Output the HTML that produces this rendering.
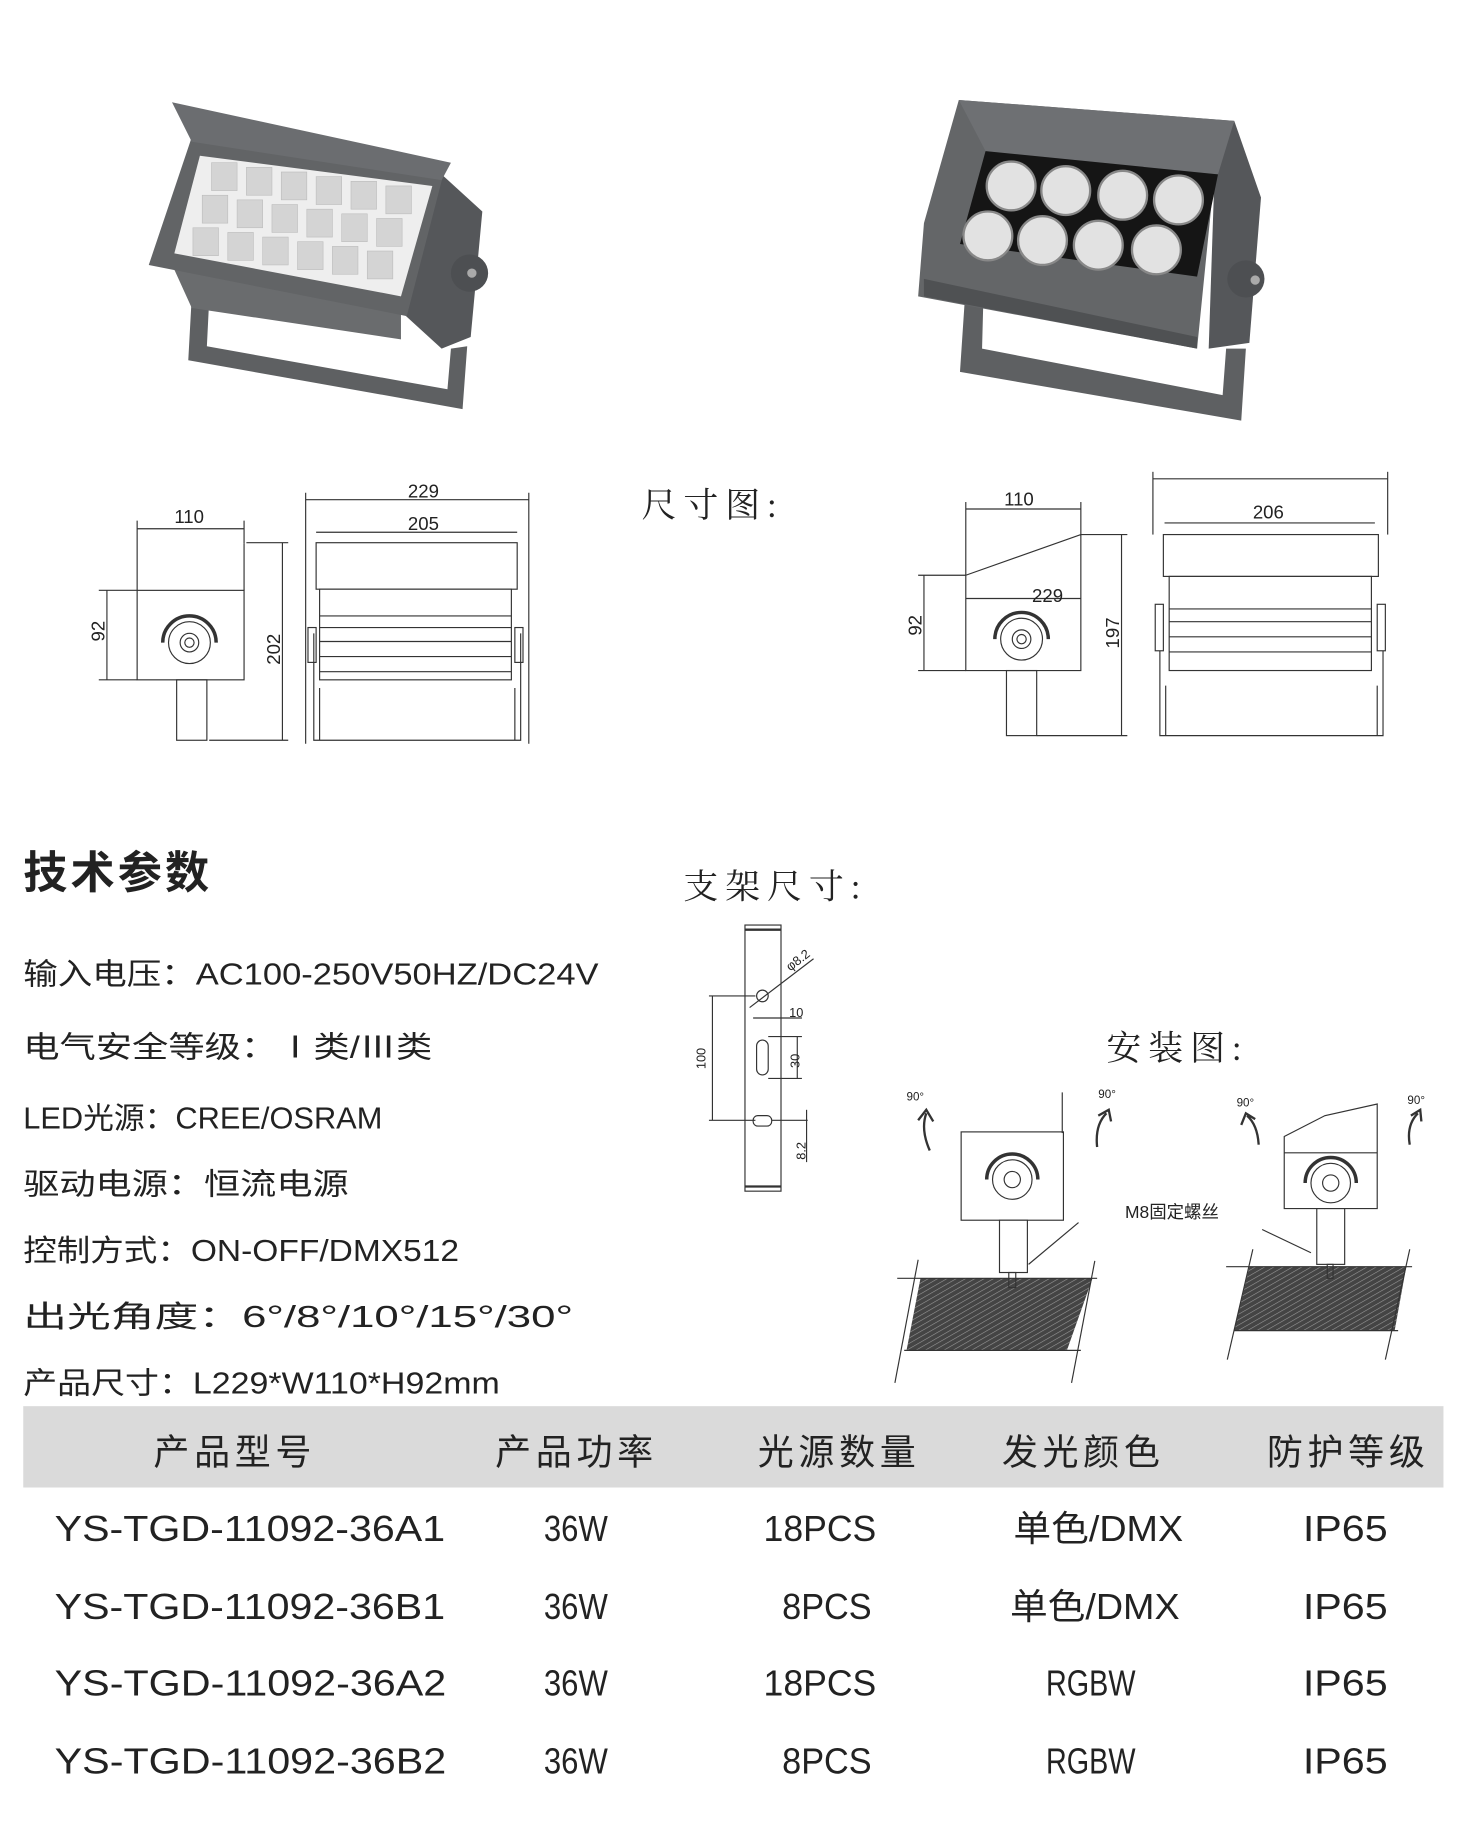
<!DOCTYPE html>
<html><head><meta charset="utf-8"><style>
html,body{margin:0;padding:0;background:#fff;width:1476px;height:1828px;overflow:hidden}
svg{display:block}
text{font-family:"Liberation Sans","Noto Sans CJK SC",sans-serif;fill:#222}
.serif{font-family:"Liberation Serif","Noto Serif CJK SC",serif}
.ln{stroke:#333;stroke-width:1;fill:none}
</style></head><body>
<svg width="1476" height="1828" viewBox="0 0 1270 1573" preserveAspectRatio="none" xmlns="http://www.w3.org/2000/svg">
<defs>
<pattern id="h" width="4" height="4" patternUnits="userSpaceOnUse" patternTransform="rotate(60)">
<rect width="4" height="4" fill="#444"/><line x1="0" y1="0" x2="0" y2="4" stroke="#999" stroke-width="1"/></pattern>
</defs>

<!-- Left photo -->
<g>
<polygon points="165,255 162,310 398,352 402,298 388,300 385,335 178,298 180,258" fill="#5e6062"/>
<polygon points="380,150 415,182 405,290 380,300 345,268" fill="#55575a"/>
<polygon points="165,265 345,292 345,268 150,232" fill="#6a6c6e"/>
<polygon points="165,118 382,148 350,272 128,228" fill="#626466"/>
<polygon points="148,88 388,140 380,155 165,122" fill="#6b6d70"/>
<polygon points="172,134 372,160 345,255 150,218" fill="#eeeeee"/>
<g fill="#d4d4d4" stroke="#bbb" stroke-width=".5">
<rect x="182" y="140" width="22" height="24"/><rect x="212" y="144" width="22" height="24"/><rect x="242" y="148" width="22" height="24"/><rect x="272" y="152" width="22" height="24"/><rect x="302" y="156" width="22" height="24"/><rect x="332" y="160" width="22" height="24"/>
<rect x="174" y="168" width="22" height="24"/><rect x="204" y="172" width="22" height="24"/><rect x="234" y="176" width="22" height="24"/><rect x="264" y="180" width="22" height="24"/><rect x="294" y="184" width="22" height="24"/><rect x="324" y="188" width="22" height="24"/>
<rect x="166" y="196" width="22" height="24"/><rect x="196" y="200" width="22" height="24"/><rect x="226" y="204" width="22" height="24"/><rect x="256" y="208" width="22" height="24"/><rect x="286" y="212" width="22" height="24"/><rect x="316" y="216" width="22" height="24"/>
</g>
<circle cx="404" cy="235" r="16" fill="#4d4f52"/><circle cx="406" cy="235" r="4" fill="#aaa"/>
</g>

<!-- Right photo -->
<g>
<polygon points="830,260 826,320 1068,362 1072,300 1055,300 1052,340 845,300 846,262" fill="#5e6062"/>
<polygon points="1062,104 1085,170 1075,295 1040,300 1045,150" fill="#55575a"/>
<polygon points="825,86 1062,104 1045,150 1030,300 790,255 795,192" fill="#646668"/>
<polygon points="825,86 1062,104 1048,150 848,130" fill="#6e7073"/>
<polygon points="848,130 1048,150 1030,238 826,210" fill="#151515"/>
<g fill="#e2e2e2" stroke="#888" stroke-width="2">
<circle cx="870" cy="160" r="21"/><circle cx="917" cy="164" r="21"/><circle cx="966" cy="168" r="21"/><circle cx="1014" cy="172" r="21"/>
<circle cx="850" cy="203" r="21"/><circle cx="897" cy="207" r="21"/><circle cx="945" cy="211" r="21"/><circle cx="995" cy="215" r="21"/>
</g>
<polygon points="795,240 1030,290 1030,300 795,255" fill="#4f5153"/>
<circle cx="1072" cy="240" r="16" fill="#4d4f52"/><circle cx="1080" cy="241" r="4" fill="#aaa"/>
</g>

<!-- Left dimension drawings -->
<g class="ln">
<rect x="118" y="508" width="92" height="77" fill="#fff"/>
<line x1="210" y1="468" x2="210" y2="508"/>
<circle cx="163" cy="553" r="18"/><circle cx="163" cy="553" r="8"/><circle cx="163" cy="553" r="4"/>
<path d="M140,553 A23,23 0 0 1 186,553" stroke-width="3"/>
<rect x="152" y="585" width="26" height="52"/>
<line x1="118" y1="455" x2="210" y2="455"/><line x1="118" y1="448" x2="118" y2="508"/><line x1="210" y1="448" x2="210" y2="468"/>
<line x1="92" y1="508" x2="92" y2="585"/><line x1="85" y1="508" x2="118" y2="508"/><line x1="85" y1="585" x2="118" y2="585"/>
<line x1="243" y1="467" x2="243" y2="637"/><line x1="212" y1="467" x2="248" y2="467"/><line x1="180" y1="637" x2="248" y2="637"/>
<rect x="272" y="467" width="173" height="40" fill="#fff"/>
<rect x="275" y="507" width="165" height="78" fill="#fff"/>
<line x1="275" y1="530" x2="440" y2="530"/><line x1="275" y1="540" x2="440" y2="540"/><line x1="275" y1="552" x2="440" y2="552"/><line x1="275" y1="565" x2="440" y2="565"/><line x1="275" y1="578" x2="440" y2="578"/>
<path d="M270,545 L270,637 L448,637 L448,545"/><path d="M275,637 L275,592 M443,637 L443,592"/>
<rect x="265" y="540" width="7" height="30"/><rect x="443" y="540" width="7" height="30"/>
<line x1="263" y1="430" x2="455" y2="430"/><line x1="263" y1="424" x2="263" y2="640"/><line x1="455" y1="424" x2="455" y2="640"/>
<line x1="272" y1="458" x2="445" y2="458"/>
</g>
<g class="serif" font-size="16">
<text x="150" y="450">110</text><text x="351" y="428">229</text><text x="351" y="456">205</text>
<text transform="translate(90,552) rotate(-90)">92</text><text transform="translate(241,572) rotate(-90)">202</text>
</g>

<!-- Right dimension drawings -->
<g class="ln">
<path d="M831,495 L930,460 L930,577 L831,577 Z" fill="#fff"/>
<line x1="831" y1="515" x2="930" y2="515"/>
<circle cx="879" cy="550" r="18"/><circle cx="879" cy="550" r="8"/><circle cx="879" cy="550" r="4"/>
<path d="M856,550 A23,23 0 0 1 902,550" stroke-width="3"/>
<rect x="866" y="577" width="26" height="56"/>
<line x1="831" y1="438" x2="930" y2="438"/><line x1="831" y1="432" x2="831" y2="495"/><line x1="930" y1="432" x2="930" y2="460"/>
<line x1="795" y1="495" x2="795" y2="577"/><line x1="790" y1="495" x2="831" y2="495"/><line x1="790" y1="577" x2="831" y2="577"/>
<line x1="965" y1="460" x2="965" y2="633"/><line x1="930" y1="460" x2="970" y2="460"/><line x1="892" y1="633" x2="970" y2="633"/>
<rect x="1001" y="460" width="185" height="36" fill="#fff"/>
<rect x="1006" y="496" width="174" height="81" fill="#fff"/>
<line x1="1006" y1="524" x2="1180" y2="524"/><line x1="1006" y1="535" x2="1180" y2="535"/><line x1="1006" y1="548" x2="1180" y2="548"/><line x1="1006" y1="561" x2="1180" y2="561"/>
<path d="M998,560 L998,633 L1190,633 L1190,560"/><path d="M1003,633 L1003,590 M1185,633 L1185,590"/>
<rect x="994" y="520" width="7" height="40"/><rect x="1185" y="520" width="7" height="40"/>
<line x1="992" y1="412" x2="1194" y2="412"/><line x1="992" y1="406" x2="992" y2="460"/><line x1="1194" y1="406" x2="1194" y2="460"/>
<line x1="1002" y1="450" x2="1183" y2="450"/>
</g>
<g class="serif" font-size="16">
<text x="864" y="435">110</text><text x="1078" y="446">206</text><text x="888" y="518">229</text>
<text transform="translate(793,547) rotate(-90)">92</text><text transform="translate(963,558) rotate(-90)">197</text>
</g>

<text x="552" y="445" class="serif" font-size="30" letter-spacing="6">尺寸图:</text>
<text x="588" y="773" class="serif" font-size="30" letter-spacing="6">支架尺寸:</text>
<text x="952" y="912" class="serif" font-size="30" letter-spacing="6">安装图:</text>

<!-- Bracket -->
<g class="ln">
<rect x="641" y="796" width="31" height="229"/>
<line x1="641" y1="800" x2="672" y2="800" stroke-width="2"/><line x1="641" y1="1021" x2="672" y2="1021" stroke-width="2"/>
<circle cx="656" cy="857" r="5"/><line x1="645" y1="867" x2="700" y2="825"/>
<rect x="651" y="895" width="10" height="30" rx="5"/>
<rect x="648" y="960" width="16" height="9" rx="4"/>
<line x1="610" y1="857" x2="650" y2="857"/><line x1="610" y1="964" x2="650" y2="964"/><line x1="613" y1="857" x2="613" y2="964"/>
<line x1="648" y1="876" x2="690" y2="876"/><line x1="661" y1="892" x2="690" y2="892"/><line x1="661" y1="928" x2="690" y2="928"/><line x1="686" y1="892" x2="686" y2="928"/>
<line x1="664" y1="964" x2="695" y2="964"/><line x1="694" y1="955" x2="694" y2="1000"/>
</g>
<g font-size="11">
<text x="679" y="875">10</text>
<text transform="translate(688,919) rotate(-90)">30</text>
<text transform="translate(607,920) rotate(-90)">100</text>
<text transform="translate(693,998) rotate(-90)">8.2</text>
<text transform="translate(680,836) rotate(-38)">φ8.2</text>
</g>

<!-- Installation -->
<g class="ln">
<polygon points="792,1100 940,1100 918,1162 780,1162" fill="url(#h)" stroke="none"/>
<line x1="772" y1="1100" x2="944" y2="1100"/><line x1="778" y1="1162" x2="930" y2="1162"/>
<line x1="790" y1="1084" x2="770" y2="1190"/><line x1="942" y1="1085" x2="922" y2="1190"/>
<rect x="827" y="974" width="88" height="76" fill="#fff"/>
<line x1="914" y1="940" x2="914" y2="975"/>
<circle cx="871" cy="1015" r="17"/><circle cx="871" cy="1015" r="7"/>
<path d="M849,1015 A22,22 0 0 1 893,1015" stroke-width="3"/>
<rect x="860" y="1050" width="24" height="45" fill="#fff"/><rect x="868" y="1095" width="6" height="13"/>
<line x1="885" y1="1088" x2="928" y2="1052"/>
<polygon points="1075,1090 1210,1090 1200,1145 1062,1145" fill="url(#h)" stroke="none"/>
<line x1="1055" y1="1090" x2="1215" y2="1090"/><line x1="1062" y1="1145" x2="1203" y2="1145"/>
<line x1="1078" y1="1075" x2="1056" y2="1170"/><line x1="1213" y1="1075" x2="1192" y2="1170"/>
<path d="M1105,978 L1140,960 L1185,950 L1185,1040 L1105,1040 Z" fill="#fff"/>
<line x1="1105" y1="992" x2="1185" y2="992"/>
<circle cx="1145" cy="1018" r="17"/><circle cx="1145" cy="1018" r="7"/>
<path d="M1123,1018 A22,22 0 0 1 1167,1018" stroke-width="3"/>
<rect x="1133" y="1040" width="24" height="48" fill="#fff"/><rect x="1142" y="1088" width="5" height="12"/>
<line x1="1128" y1="1078" x2="1086" y2="1058"/>
<path d="M800,990 Q792,972 797,958 M790,964 L797,955 L803,965" stroke-width="2"/>
<path d="M944,987 Q942,968 952,958 M945,960 L954,955 L956,965" stroke-width="2"/>
<path d="M1083,985 Q1082,968 1073,960 M1068,968 L1072,958 L1080,963" stroke-width="2"/>
<path d="M1213,985 Q1210,968 1220,958 M1214,960 L1222,955 L1223,965" stroke-width="2"/>
</g>
<g font-size="10"><text x="780" y="947">90°</text><text x="945" y="945">90°</text><text x="1064" y="952">90°</text><text x="1211" y="950">90°</text></g>
<text x="968" y="1048" font-size="15">M8固定螺丝</text>

<!-- Specs -->
<text x="20" y="764" font-size="38" font-weight="bold" textLength="160">技术参数</text>
<g font-size="26" lengthAdjust="spacingAndGlyphs">
<text x="20" y="847" textLength="495" lengthAdjust="spacingAndGlyphs">输入电压：AC100-250V50HZ/DC24V</text>
<text x="20" y="910" textLength="352" lengthAdjust="spacingAndGlyphs">电气安全等级：Ⅰ类/Ⅲ类</text>
<text x="20" y="971" textLength="309" lengthAdjust="spacingAndGlyphs">LED光源：CREE/OSRAM</text>
<text x="20" y="1028" textLength="280" lengthAdjust="spacingAndGlyphs">驱动电源：恒流电源</text>
<text x="20" y="1085" textLength="375" lengthAdjust="spacingAndGlyphs">控制方式：ON-OFF/DMX512</text>
<text x="20" y="1142" textLength="473" lengthAdjust="spacingAndGlyphs">出光角度：6°/8°/10°/15°/30°</text>
<text x="20" y="1199" textLength="410" lengthAdjust="spacingAndGlyphs">产品尺寸：L229*W110*H92mm</text>
</g>

<!-- Table -->
<rect x="20" y="1210" width="1222" height="70" fill="#dadada"/>
<g font-size="31" text-anchor="middle">
<text x="202" y="1260" letter-spacing="4">产品型号</text>
<text x="496" y="1260" letter-spacing="4">产品功率</text>
<text x="722" y="1260" letter-spacing="4">光源数量</text>
<text x="932" y="1260" letter-spacing="4">发光颜色</text>
<text x="1160" y="1260" letter-spacing="4">防护等级</text>
</g>
<g font-size="31">
<text x="47" y="1326" textLength="336" lengthAdjust="spacingAndGlyphs">YS-TGD-11092-36A1</text>
<text x="468" y="1326" textLength="55" lengthAdjust="spacingAndGlyphs">36W</text>
<text x="657" y="1326" textLength="97" lengthAdjust="spacingAndGlyphs">18PCS</text>
<text x="872" y="1326" textLength="146" lengthAdjust="spacingAndGlyphs">单色/DMX</text>
<text x="1121" y="1326" textLength="73" lengthAdjust="spacingAndGlyphs">IP65</text>
<text x="47" y="1393" textLength="336" lengthAdjust="spacingAndGlyphs">YS-TGD-11092-36B1</text>
<text x="468" y="1393" textLength="55" lengthAdjust="spacingAndGlyphs">36W</text>
<text x="673" y="1393" textLength="77" lengthAdjust="spacingAndGlyphs">8PCS</text>
<text x="869" y="1393" textLength="146" lengthAdjust="spacingAndGlyphs">单色/DMX</text>
<text x="1121" y="1393" textLength="73" lengthAdjust="spacingAndGlyphs">IP65</text>
<text x="47" y="1459" textLength="337" lengthAdjust="spacingAndGlyphs">YS-TGD-11092-36A2</text>
<text x="468" y="1459" textLength="55" lengthAdjust="spacingAndGlyphs">36W</text>
<text x="657" y="1459" textLength="97" lengthAdjust="spacingAndGlyphs">18PCS</text>
<text x="900" y="1459" textLength="77" lengthAdjust="spacingAndGlyphs">RGBW</text>
<text x="1121" y="1459" textLength="73" lengthAdjust="spacingAndGlyphs">IP65</text>
<text x="47" y="1526" textLength="337" lengthAdjust="spacingAndGlyphs">YS-TGD-11092-36B2</text>
<text x="468" y="1526" textLength="55" lengthAdjust="spacingAndGlyphs">36W</text>
<text x="673" y="1526" textLength="77" lengthAdjust="spacingAndGlyphs">8PCS</text>
<text x="900" y="1526" textLength="77" lengthAdjust="spacingAndGlyphs">RGBW</text>
<text x="1121" y="1526" textLength="73" lengthAdjust="spacingAndGlyphs">IP65</text>
</g>
</svg>
</body></html>
